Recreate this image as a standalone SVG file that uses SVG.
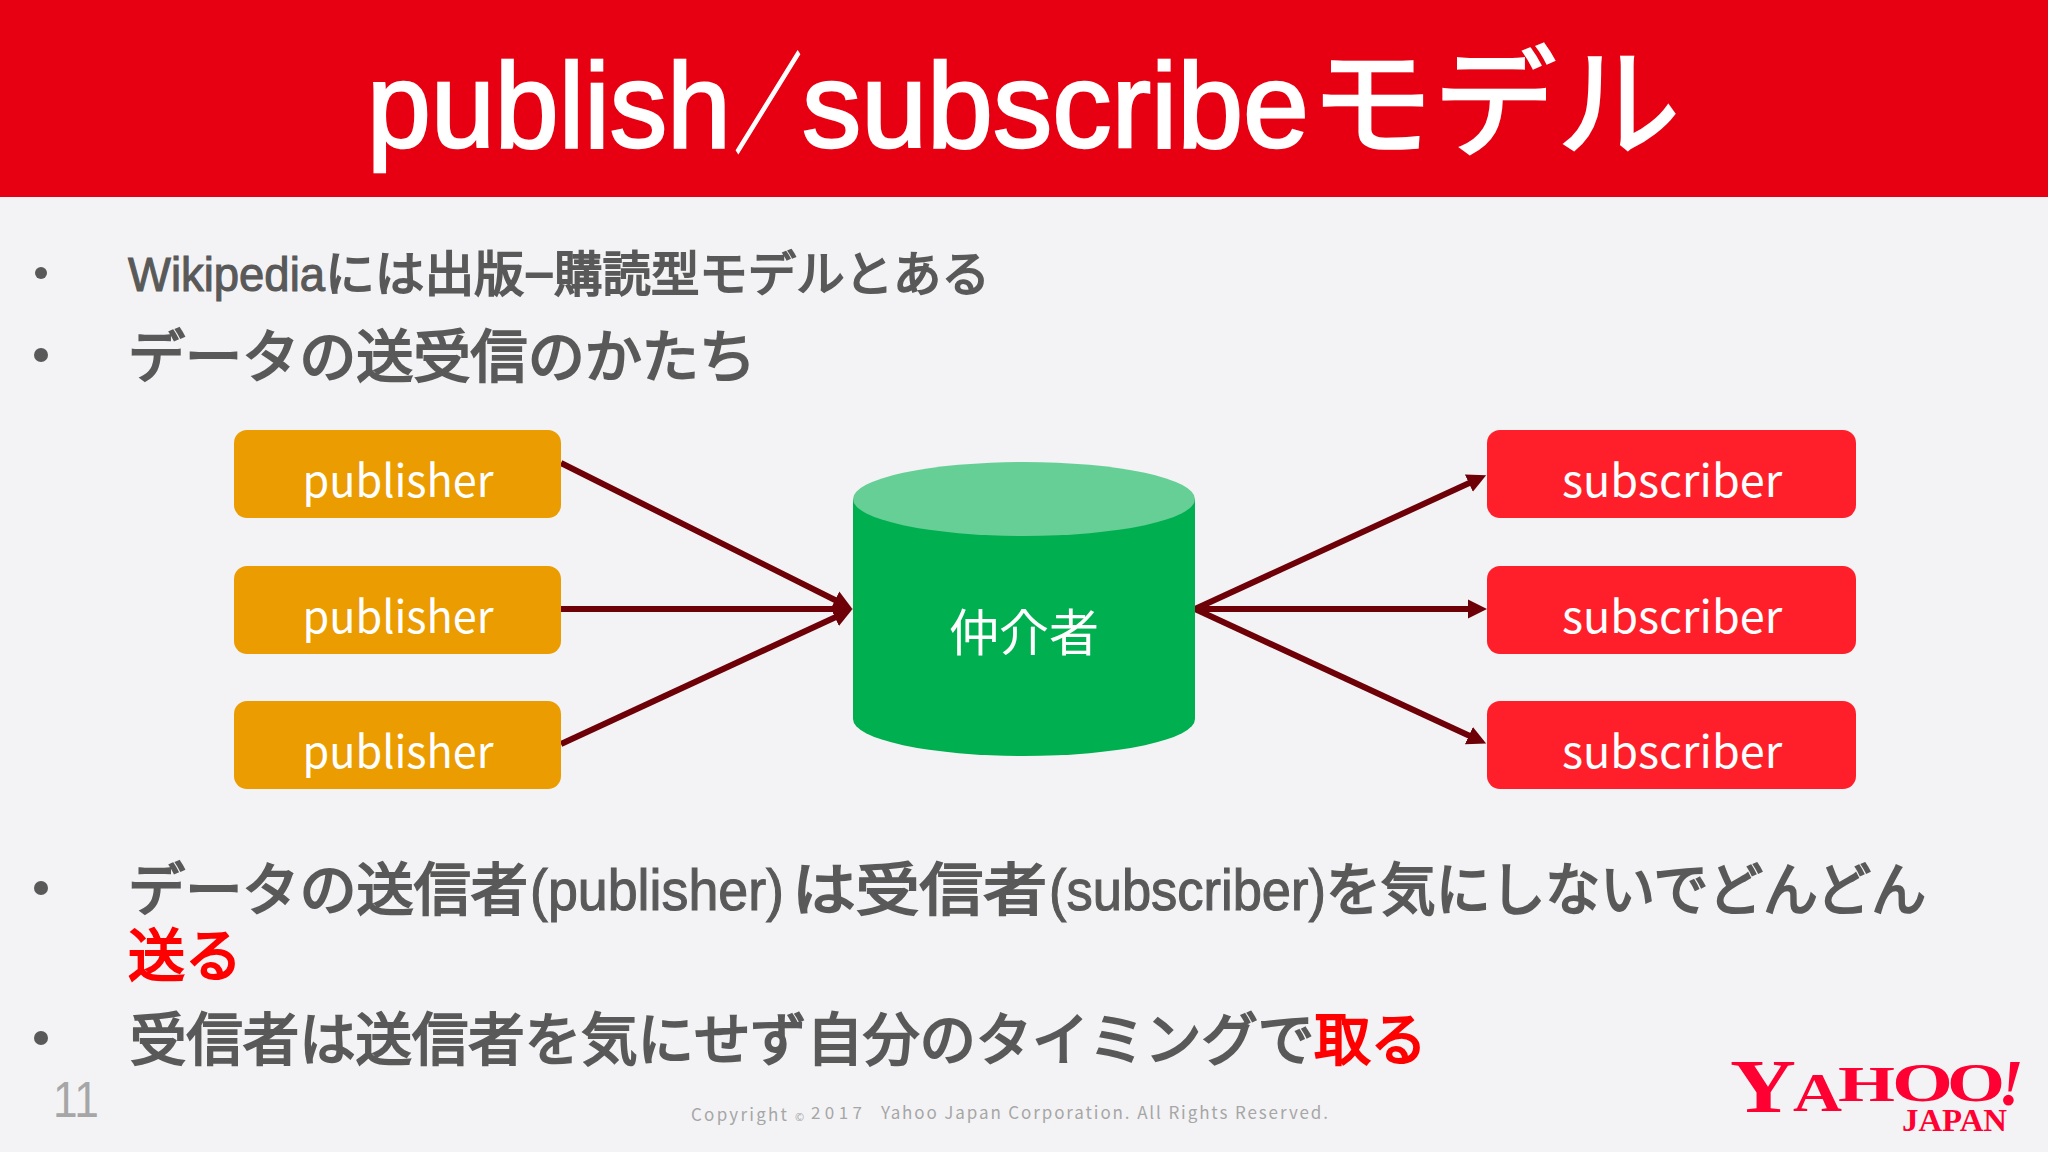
<svg xmlns="http://www.w3.org/2000/svg" width="2048" height="1152" viewBox="0 0 2048 1152">
<style>
text{font-family:"Noto Sans CJK JP","Noto Sans",sans-serif}
.b{font-family:"Liberation Sans","Noto Sans CJK JP",sans-serif;font-size:57px;fill:#595959;stroke:#595959;stroke-width:2.2}
.s{font-size:48px;stroke-width:1.9}
.l{stroke-width:1.1}
.r{fill:#f00;stroke:#f00}
.dot{fill:#595959}
.n{font-size:45px;fill:#fff;text-anchor:middle}
.pub{fill:#eb9c00}
.sub{fill:#ff1f2b}
.c{stroke:#6e0008;stroke-width:6;fill:none;marker-end:url(#ah)}
.logo{font-family:"Liberation Serif",serif;font-weight:700;fill:#f03}
.ft{font-size:17px;fill:#a6a6a6}
</style>
<defs><marker id="ah" markerUnits="userSpaceOnUse" markerWidth="20" markerHeight="20" refX="10" refY="10" orient="auto"><path d="M0,.5 L19,10 L0,19.5z" fill="#6e0008"/></marker></defs>
<rect width="2048" height="1152" fill="#f3f3f5"/>
<g id="header"><rect width="2048" height="197" fill="#e60012"/>
<text y="147" font-size="120" fill="#fff" stroke="#fff" stroke-width="2.5" style="font-family:'Liberation Sans','Noto Sans CJK JP',sans-serif"><tspan x="367" textLength="364" lengthAdjust="spacingAndGlyphs">publish</tspan><tspan x="734" y="144" font-size="110" stroke-width="1.5" textLength="68" lengthAdjust="spacingAndGlyphs">／</tspan><tspan x="802" y="147" textLength="507" lengthAdjust="spacingAndGlyphs">subscribe</tspan><tspan x="1310" y="147" textLength="370" lengthAdjust="spacingAndGlyphs">モデル</tspan></text></g>
<g id="bullets">
<circle class="dot" cx="41" cy="273" r="6"/><text y="291" class="b s"><tspan class="l" x="128" textLength="197" lengthAdjust="spacingAndGlyphs">Wikipedia</tspan><tspan x="325" textLength="199" lengthAdjust="spacingAndGlyphs">には出版</tspan><tspan x="524" textLength="30" lengthAdjust="spacingAndGlyphs">−</tspan><tspan x="554" textLength="436" lengthAdjust="spacingAndGlyphs">購読型モデルとある</tspan></text>
<circle class="dot" cx="41" cy="355" r="7"/><text x="128" y="377" class="b" textLength="628" lengthAdjust="spacingAndGlyphs">データの送受信のかたち</text>
<circle class="dot" cx="41" cy="888" r="7"/><text y="910" class="b"><tspan x="128" textLength="400" lengthAdjust="spacingAndGlyphs">データの送信者</tspan><tspan class="l" x="530" textLength="254" lengthAdjust="spacingAndGlyphs">(publisher)</tspan><tspan x="792" textLength="255" lengthAdjust="spacingAndGlyphs">は受信者</tspan><tspan class="l" x="1049" textLength="277" lengthAdjust="spacingAndGlyphs">(subscriber)</tspan><tspan x="1326" textLength="600" lengthAdjust="spacingAndGlyphs">を気にしないでどんどん</tspan></text>
<text x="128" y="976" class="b r">送る</text>
<circle class="dot" cx="41" cy="1038" r="7"/><text x="130" y="1060" class="b" textLength="1297" lengthAdjust="spacingAndGlyphs">受信者は送信者を気にせず自分のタイミングで<tspan class="r">取る</tspan></text>
</g>
<g id="connectors">
<path class="c" d="M561,463 L844,604.5"/>
<path class="c" d="M561,609 L844,609"/>
<path class="c" d="M561,744 L844,613.2"/>
<path class="c" d="M1195,609 L1478,479"/>
<path class="c" d="M1195,609 L1478,609"/>
<path class="c" d="M1195,609 L1478,739.8"/>
</g>
<g id="pub1"><rect class="pub" x="234" y="430" width="327" height="88" rx="13"/><text class="n" x="398" y="497" textLength="191" lengthAdjust="spacingAndGlyphs">publisher</text></g>
<g id="pub2"><rect class="pub" x="234" y="566" width="327" height="88" rx="13"/><text class="n" x="398" y="633" textLength="191" lengthAdjust="spacingAndGlyphs">publisher</text></g>
<g id="pub3"><rect class="pub" x="234" y="701" width="327" height="88" rx="13"/><text class="n" x="398" y="768" textLength="191" lengthAdjust="spacingAndGlyphs">publisher</text></g>
<g id="broker"><path d="M853,499 V719 A171,37 0 0 0 1195,719 V499z" fill="#00b050"/><ellipse cx="1024" cy="499" rx="171" ry="37" fill="#66cf96"/><text class="n" x="1024" y="651" style="font-size:50px">仲介者</text></g>
<g id="sub1"><rect class="sub" x="1487" y="430" width="369" height="88" rx="13"/><text class="n" x="1672" y="497">subscriber</text></g>
<g id="sub2"><rect class="sub" x="1487" y="566" width="369" height="88" rx="13"/><text class="n" x="1672" y="633">subscriber</text></g>
<g id="sub3"><rect class="sub" x="1487" y="701" width="369" height="88" rx="13"/><text class="n" x="1672" y="768">subscriber</text></g>
<g id="footer">
<text x="53" y="1117" font-size="50" fill="#a6a6a6" textLength="46" lengthAdjust="spacingAndGlyphs" style="font-family:'Liberation Sans',sans-serif">11</text>
<text class="ft" x="691" y="1121" textLength="96" lengthAdjust="spacing">Copyright</text>
<text class="ft" x="795" y="1121" style="font-size:11px">©</text>
<text class="ft" x="811" y="1119" textLength="51" lengthAdjust="spacing">2017</text>
<text class="ft" x="881" y="1119" textLength="447" lengthAdjust="spacing">Yahoo Japan Corporation. All Rights Reserved.</text>
</g>
<g id="logo">
<text class="logo"><tspan x="1730" y="1112" font-size="77" textLength="66" lengthAdjust="spacingAndGlyphs">Y</tspan><tspan x="1793" y="1111" font-size="55" textLength="49" lengthAdjust="spacingAndGlyphs">A</tspan><tspan x="1838" y="1101" font-size="50" textLength="57" lengthAdjust="spacingAndGlyphs">H</tspan><tspan x="1892" y="1101" font-size="54" textLength="61" lengthAdjust="spacingAndGlyphs">O</tspan><tspan x="1947" y="1101" font-size="54" textLength="58" lengthAdjust="spacingAndGlyphs">O</tspan><tspan x="1998" y="1105" font-size="66" font-style="italic">!</tspan></text>
<text class="logo" x="1902" y="1131" font-size="32" textLength="105" lengthAdjust="spacingAndGlyphs">JAPAN</text>
</g>
</svg>
